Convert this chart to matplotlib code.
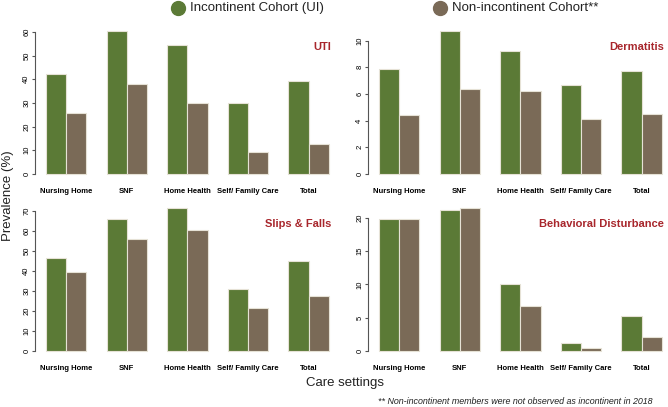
import matplotlib
matplotlib.use("Agg")
import matplotlib.pyplot as plt
import numpy as np

plt.rcParams['font.family'] = ['Liberation Sans', 'DejaVu Sans']

categories = ["Nursing Home", "SNF", "Home Health", "Self/ Family Care", "Total"]
series_names = ["Incontinent Cohort (UI)", "Non-incontinent Cohort**"]

uti_ui = [42.4, 60.3, 54.4, 29.8, 39.1]
uti_non = [25.7, 38.2, 30.1, 9.1, 12.6]
derm_ui = [7.9, 10.7, 9.2, 6.7, 7.7]
derm_non = [4.4, 6.4, 6.2, 4.1, 4.5]
falls_ui = [46.8, 66.2, 71.5, 31.2, 45.1]
falls_non = [39.4, 56.1, 60.8, 21.7, 27.6]
behav_ui = [19.85, 21.25, 10.1, 1.2, 5.3]
behav_non = [19.85, 21.45, 6.8, 0.5, 2.1]

panels = [
    ("UTI", uti_ui, uti_non, np.arange(0, 61, 10)),
    ("Dermatitis", derm_ui, derm_non, np.arange(0, 11, 2)),
    ("Slips & Falls", falls_ui, falls_non, np.arange(0, 71, 10)),
    ("Behavioral Disturbance", behav_ui, behav_non, np.arange(0, 21, 5)),
]

green = "#5b7a36"
brown = "#7a6a57"
edge = "#e6e2d6"
title_red = "#a8262c"

W, H = 668, 407
fig = plt.figure(figsize=(W / 100, H / 100), dpi=100)

unit = 20.2
xl, xr = 0.44, 15.2
boxes = [
    (34.7, 25.5, 179.7),
    (367.7, 25.5, 179.7),
    (34.7, 202.6, 356.7),
    (367.7, 202.6, 356.7),
]

for (title, ui, non, ticks), (l, t, b) in zip(panels, boxes):
    wpx = (xr - xl) * unit
    ax = fig.add_axes([l / W, 1 - b / H, wpx / W, (b - t) / H])
    n = len(categories)
    x = np.arange(n) * 3 + 1.0
    ax.bar(x, ui, width=1.0, align='edge', color=green, edgecolor=edge, linewidth=0.8)
    ax.bar(x + 1, non, width=1.0, align='edge', color=brown, edgecolor=edge, linewidth=0.8)
    mx = max(max(ui), max(non))
    ax.set_ylim(-0.04 * mx, 1.04 * mx)
    ax.set_xlim(xl, xr)
    for s in ['top', 'right', 'bottom']:
        ax.spines[s].set_visible(False)
    ax.spines['left'].set_bounds(ticks[0], ticks[-1])
    ax.spines['left'].set_color('#555555')
    ax.spines['left'].set_linewidth(0.8)
    ax.set_yticks(ticks)
    ax.set_yticklabels([str(v) for v in ticks], rotation=90, va='center', fontsize=5.5)
    ax.tick_params(axis='y', length=2.2, width=0.8, color='#555555', pad=1)
    ax.set_xticks(x + 1)
    ax.set_xticklabels(categories, fontsize=5.5, fontweight='bold')
    ax.tick_params(axis='x', length=0, pad=6)
    ax.text(0.995, 0.86, title, transform=ax.transAxes, ha='right', va='center',
            color=title_red, fontsize=8, fontweight='bold')

leg_items = [(178, green, series_names[0]), (440, brown, series_names[1])]
for xc, col, lab in leg_items:
    fig.add_artist(plt.Line2D([xc / W], [1 - 8 / H], marker='o', markersize=10,
                              color=col, linestyle='none', transform=fig.transFigure))
    fig.text((xc + 12) / W, 1 - 8 / H, lab, fontsize=9.5, va='center', ha='left', color='#222222')

fig.text(8.5 / W, 1 - 196 / H, "Prevalence (%)", rotation=90, fontsize=9.5, va='center', ha='center', color='#222222')
fig.text(345 / W, 1 - 383 / H, "Care settings", fontsize=9.5, va='center', ha='center', color='#222222')
fig.text(653 / W, 1 - 401 / H, "** Non-incontinent members were not observed as incontinent in 2018",
         fontsize=6.4, style='italic', va='center', ha='right', color='#222222')

fig.savefig("out.png", dpi=100)
